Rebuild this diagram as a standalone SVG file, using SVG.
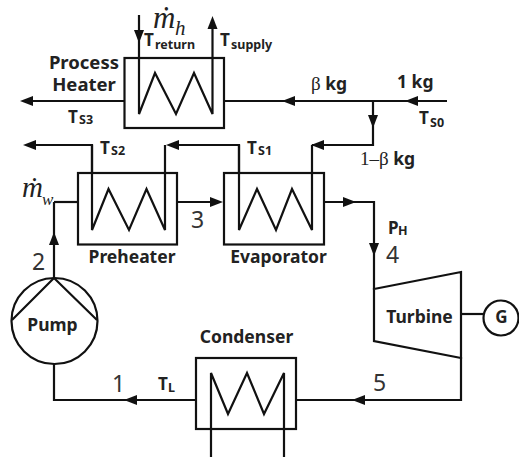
<svg xmlns="http://www.w3.org/2000/svg" width="519" height="457" viewBox="0 0 519 457">
<style>
.l{fill:none;stroke:#111;stroke-width:2.2;stroke-linejoin:miter}
.b{fill:#fff;stroke:#111;stroke-width:2.2}
.a{fill:#111;stroke:none}
text{fill:#222;font-family:"Noto Sans","Open Sans","Liberation Sans",sans-serif}
.t{font-weight:700;font-size:17.5px}
.p{font-weight:700;font-size:18.500px}
.T{font-weight:700;font-size:17px}
.sub{font-weight:700;font-size:12.500px}
.n{font-size:23px;fill:#333}
.g{font-family:"Liberation Serif",serif;font-weight:400;font-size:19px}
.m{font-family:"Liberation Serif",serif;font-style:italic}
</style>
<defs>
<path id="ar" class="a" d="M0,0 L-13,-5 L-13,5 Z"/>
</defs>
<g id="connectors">
<path class="l" d="M447,101 H224"/>
<path class="l" d="M125,101 H28"/>
<path class="l" d="M373,101 V145 H312"/>
<path class="l" d="M239,230 V145 H172"/>
<path class="l" d="M92,173 V145 H32"/>
<path class="l" d="M177,202 H220"/>
<path class="l" d="M324,202 H374 V290"/>
<path class="l" d="M54,202 H78"/>
<path class="l" d="M54,202 V278"/>
<path class="l" d="M54,364 V400 H195"/>
<path class="l" d="M296,400 H461 V357"/>
<path class="l" d="M461,314 H484"/>
<use href="#ar" transform="translate(20,101) rotate(180)"/>
<use href="#ar" transform="translate(23,145) rotate(180)"/>
<use href="#ar" transform="translate(166,145) rotate(180)"/>
<use href="#ar" transform="translate(282,101) rotate(180)"/>
<use href="#ar" transform="translate(405,101) rotate(180)"/>
<use href="#ar" transform="translate(311,145) rotate(180)"/>
<use href="#ar" transform="translate(373,128) rotate(90)"/>
<use href="#ar" transform="translate(223,202)"/>
<use href="#ar" transform="translate(356,202)"/>
<use href="#ar" transform="translate(374,256) rotate(90)"/>
<use href="#ar" transform="translate(54,232) rotate(-90)"/>
<use href="#ar" transform="translate(124,400) rotate(180)"/>
<use href="#ar" transform="translate(352,400) rotate(180)"/>
</g>
<g id="process-heater">
<rect class="b" x="124.500" y="58" width="99.500" height="70"/>
<path class="l" d="M139,15 V114 L155,73 L176,114 L194,73 L212.500,114 V22"/>
<use href="#ar" transform="translate(139,43) rotate(90)"/>
<use href="#ar" transform="translate(212.500,16) rotate(-90)"/>
<text class="p" x="119" y="69" text-anchor="end">Process</text>
<text class="p" x="84" y="91" text-anchor="middle">Heater</text>
<text class="m" x="153" y="28" font-size="31">ṁ</text><text class="m" x="175" y="35" font-size="21">h</text>
<text class="T" x="144" y="46">T</text><text class="sub" x="155" y="49">return</text>
<text class="T" x="220" y="46">T</text><text class="sub" x="231" y="49">supply</text>
</g>
<g id="preheater">
<rect class="b" x="78" y="173" width="99" height="71.500"/>
<path class="l" d="M92,145 V230 L108.500,189 L129,230 L146.500,189 L165,230 V145"/>
<text class="t" x="132" y="263" text-anchor="middle">Preheater</text>
<text class="m" x="22" y="197" font-size="29">ṁ</text><text class="m" x="42" y="205" font-size="17">w</text>
</g>
<g id="evaporator">
<rect class="b" x="224" y="173" width="100" height="71.500"/>
<path class="l" d="M239,145 V230 L257,189 L276,230 L292,189 L312,230 V145"/>
<text class="t" x="278.500" y="263" text-anchor="middle">Evaporator</text>
</g>
<g id="pump">
<circle class="b" cx="54.500" cy="321" r="43"/>
<path class="l" d="M12,320 L54,278 L97,320"/>
<text class="t" x="52.500" y="331" text-anchor="middle">Pump</text>
</g>
<g id="turbine">
<path class="b" d="M374,289 L461,272 V358 L374,341 Z"/>
<text class="t" x="419.500" y="323" text-anchor="middle">Turbine</text>
</g>
<g id="generator">
<circle class="b" cx="501" cy="318" r="17.500"/>
<text class="T" x="501.500" y="323" text-anchor="middle">G</text>
</g>
<g id="condenser">
<rect class="b" x="196" y="358" width="100" height="71"/>
<path class="l" d="M211,457 V373 L228,414 L247,373 L264,414 L284,373 V457"/>
<text class="t" x="246.500" y="343" text-anchor="middle">Condenser</text>
</g>
<g id="labels">
<text class="T" x="68" y="123">T</text><text class="sub" x="79" y="124">S3</text>
<text class="T" x="100" y="154">T</text><text class="sub" x="111" y="155">S2</text>
<text class="T" x="247" y="154">T</text><text class="sub" x="258" y="155">S1</text>
<text class="T" x="419" y="124">T</text><text class="sub" x="430" y="127">S0</text>
<text class="t" x="311" y="90"><tspan class="g">β</tspan> kg</text>
<text class="t" x="397" y="88">1 kg</text>
<text class="t" x="360" y="165"><tspan class="g">1–β</tspan> kg</text>
<text class="T" x="388" y="234">P</text><text class="sub" x="398" y="235">H</text>
<text class="T" x="158" y="390">T</text><text class="sub" x="168" y="392">L</text>
<text class="n" x="32" y="270">2</text>
<text class="n" x="191" y="228">3</text>
<text class="n" x="386" y="263">4</text>
<text class="n" x="373" y="391">5</text>
<text class="n" x="112" y="392">1</text>
</g>
</svg>
